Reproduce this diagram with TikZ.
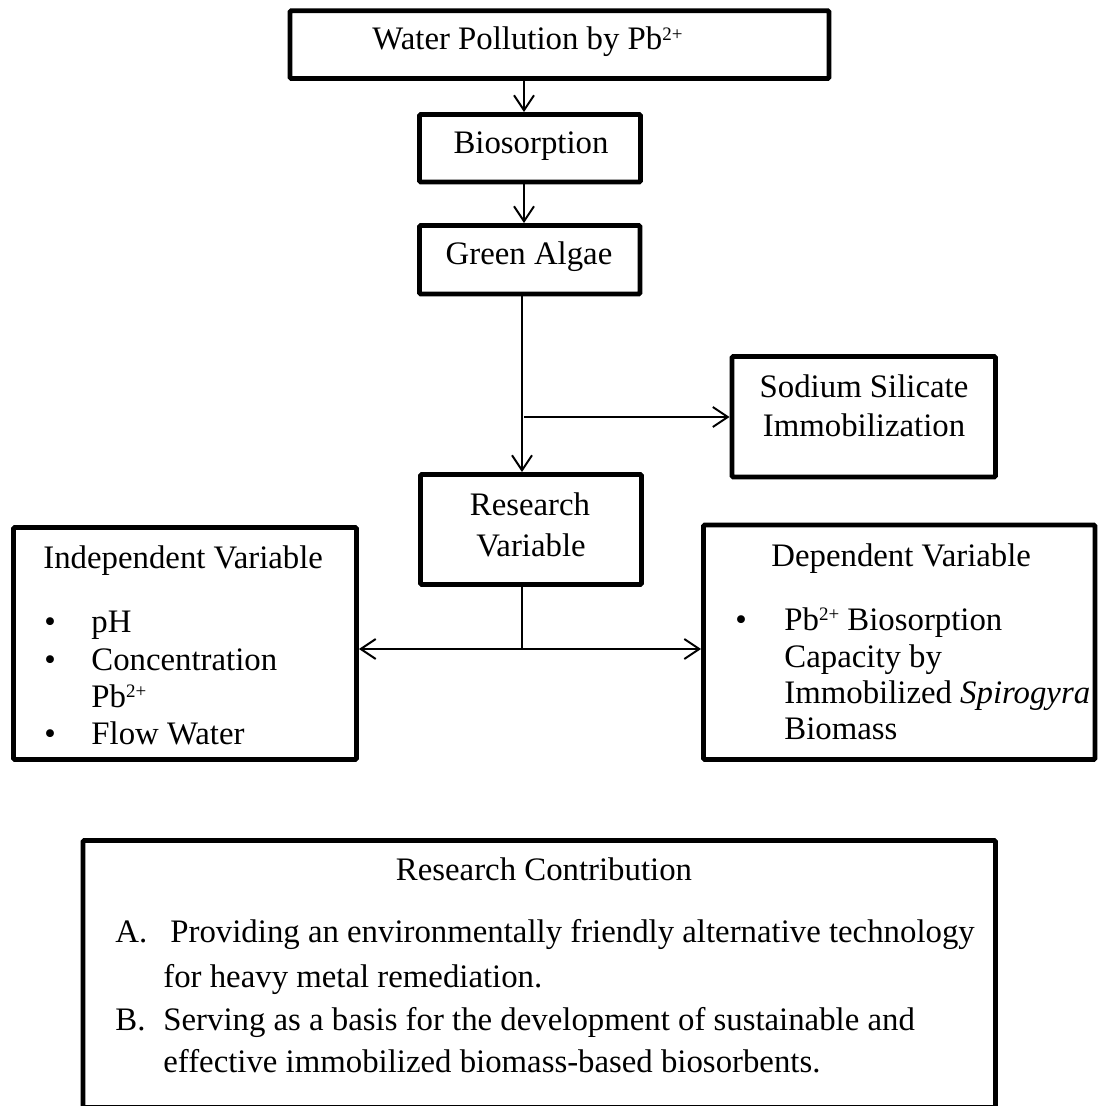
\documentclass[tikz,border=0pt]{standalone}
\usepackage{fontspec}
\setmainfont{Liberation Serif}
\usetikzlibrary{arrows.meta}
\newcommand{\mysup}[1]{\raisebox{0.62ex}{\fontsize{9.5pt}{9.5pt}\selectfont #1}}
\begin{document}
\begin{tikzpicture}[x=0.5pt,y=-0.5pt,
  box/.style={draw, line width=2.4pt, inner sep=0pt, rounded corners=0.6pt},
  txt/.style={inner sep=0pt, font=\fontsize{16.4pt}{19pt}\selectfont},
  conn/.style={line width=1pt},
  arr/.style={conn, -{Straight Barb[length=7.5pt,width=10pt]}}]
\useasboundingbox (0,0) rectangle (1097,1106);
% boxes
\node[box, minimum width=269.5pt, minimum height=33.85pt] (water) at (559.5,44.6) {};
\node[box, minimum width=110.5pt, minimum height=33.75pt] (bio) at (530,148.25) {};
\node[box, minimum width=110.25pt, minimum height=34.25pt] (green) at (529.75,259.75) {};
\node[box, minimum width=131.75pt, minimum height=60.25pt] (sodium) at (863.75,416.75) {};
\node[box, minimum width=110.5pt, minimum height=55pt] (rv) at (531,529.5) {};
\node[box, minimum width=171.5pt, minimum height=116pt] (indep) at (185,643.5) {};
\node[box, minimum width=195.75pt, minimum height=117.25pt] (dep) at (899.25,642.25) {};
\node[box, minimum width=456.25pt, minimum height=133.5pt] (contrib) at (539.25,974) {};
% texts
\node[txt, anchor=base] (twater) at (527.5,50) {Water Pollution by Pb\mysup{2+}};
\node[txt, anchor=base] (tbio) at (531,154) {Biosorption};
\node[txt, anchor=base] (tgreen) at (529,265) {Green Algae};
\node[txt, anchor=base] (tsod1) at (864,397) {Sodium Silicate};
\node[txt, anchor=base] (tsod2) at (864,437) {Immobilization};
\node[txt, anchor=base] (trv1) at (530,515) {Research};
\node[txt, anchor=base] (trv2) at (531,556) {Variable};
% independent
\node[txt, anchor=base west] (tind) at (43,568) {Independent Variable};
\node[txt, anchor=base] (bi1) at (50,632) {\textbullet};
\node[txt, anchor=base west] (ti1) at (91,632) {pH};
\node[txt, anchor=base] (bi2) at (50,670) {\textbullet};
\node[txt, anchor=base west] (ti2) at (91,670) {Concentration};
\node[txt, anchor=base west] (ti3) at (91,707) {Pb\mysup{2+}};
\node[txt, anchor=base] (bi3) at (50,744) {\textbullet};
\node[txt, anchor=base west] (ti4) at (91,744) {Flow Water};
% dependent
\node[txt, anchor=base west] (tdep) at (771,566) {Dependent Variable};
\node[txt, anchor=base] (bd1) at (741,630) {\textbullet};
\node[txt, anchor=base west] (td1) at (784,630) {Pb\mysup{2+} Biosorption};
\node[txt, anchor=base west] (td2) at (784,667) {Capacity by};
\node[txt, anchor=base west] (td3) at (784,703) {Immobilized \textit{Spirogyra}};
\node[txt, anchor=base west] (td4) at (784,739) {Biomass};
% contribution
\node[txt, anchor=base] (tcon) at (544,880) {Research Contribution};
\node[txt, anchor=base west] (la) at (115,942) {A.};
\node[txt, anchor=base west] (ta1) at (170,942) {Providing an environmentally friendly alternative technology};
\node[txt, anchor=base west] (ta2) at (163,987) {for heavy metal remediation.};
\node[txt, anchor=base west] (lb) at (115,1030) {B.};
\node[txt, anchor=base west] (tb1) at (163,1030) {Serving as a basis for the development of sustainable and};
\node[txt, anchor=base west] (tb2) at (163,1072) {effective immobilized biomass-based biosorbents.};
% connectors
\coordinate (ax) at (524,0);
\coordinate (bx) at (522,0);
\coordinate (br) at (524,417);
\coordinate (jn) at (522,649);
\draw[arr] (water.south -| ax) -- (bio.north -| ax);
\draw[arr] (bio.south -| ax) -- (green.north -| ax);
\draw[arr] (green.south -| bx) -- (rv.north -| bx);
\draw[arr] (br) -- (br -| sodium.west);
\draw[conn] (rv.south -| bx) -- (jn);
\draw[arr] (jn) -- (jn -| indep.east);
\draw[arr] (jn) -- (jn -| dep.west);
\end{tikzpicture}
\end{document}
